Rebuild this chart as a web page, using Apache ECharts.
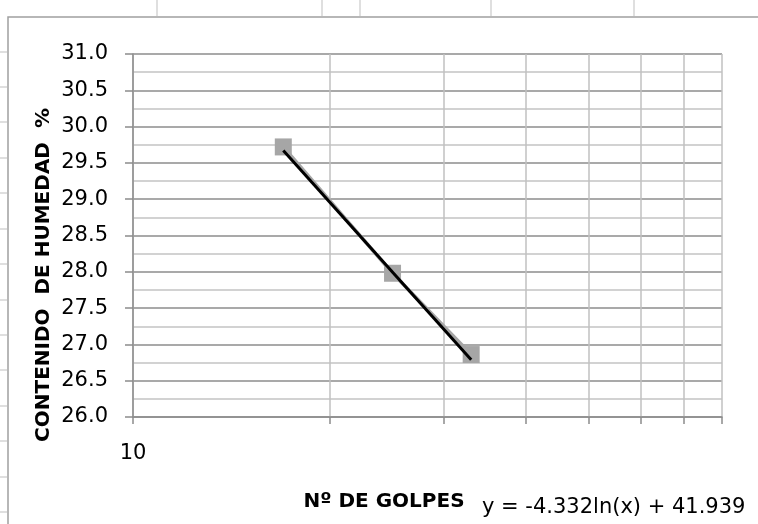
<!DOCTYPE html>
<html><head><meta charset="utf-8">
<script src="https://cdn.jsdelivr.net/npm/echarts@6/dist/echarts.min.js"></script>
<style>html,body{margin:0;padding:0;background:#fff}#c{width:758px;height:524px}</style>
</head><body><div id="c"></div>
<script>
const golpes = [17, 25, 33];
const humedad = [29.72, 27.98, 26.86];
const trendX = [17, 33];
const trendY = [29.67, 26.79];
const xTicks = [10, 20, 30, 40, 50, 60, 70, 80];
const xLabels = [10];
const yMin = 26, yMax = 31, yStep = 0.5;
const xTitle = 'Nº DE GOLPES';
const yTitle = 'CONTENIDO  DE HUMEDAD  %';
const equation = 'y = -4.332ln(x) + 41.939';

const FONT = 'DejaVu Sans';
const chart = echarts.init(document.getElementById('c'));

const deco = [];
deco.push({type:'rect', shape:{x:8, y:17, width:800, height:600}, style:{fill:'none', stroke:'#a0a0a0', lineWidth:1.5}, silent:true});
[157, 322, 360, 491, 634].forEach(x => deco.push({type:'line', shape:{x1:x, y1:0, x2:x, y2:16}, style:{stroke:'#d4d4d4', lineWidth:1.5}, silent:true}));
for (let k = 1; k <= 14; k++) { const y = Math.round(16.3 + 35.4 * k); deco.push({type:'line', shape:{x1:0, y1:y, x2:7, y2:y}, style:{stroke:'#d4d4d4', lineWidth:1.5}, silent:true}); }
deco.push({type:'text', x:384, y:502, style:{text:xTitle, font:'bold 20px "DejaVu Sans"', fill:'#000', textAlign:'center', textVerticalAlign:'middle'}});
deco.push({type:'text', x:44, y:275, rotation:Math.PI/2, style:{text:yTitle, font:'bold 20px "DejaVu Sans"', fill:'#000', textAlign:'center', textVerticalAlign:'middle'}});
deco.push({type:'text', x:482, y:508, style:{text:equation, font:'21px "DejaVu Sans"', fill:'#000', textAlign:'left', textVerticalAlign:'middle'}});

chart.setOption({
  animation: false,
  backgroundColor: '#fff',
  grid: {left:133, right:36, top:54, bottom:107},
  xAxis: {
    type:'log', logBase:10, min:10, max:80,
    axisLine:{show:true, lineStyle:{color:'#8c8c8c', width:1.5}},
    axisTick:{show:true, customValues:xTicks, length:7, lineStyle:{color:'#8c8c8c', width:1.5}},
    axisLabel:{customValues:xLabels, margin:26, fontSize:21, fontFamily:FONT, color:'#000'},
    splitLine:{show:true, lineStyle:{color:'#c0c0c0', width:1.5}}
  },
  yAxis: {
    type:'value', min:yMin, max:yMax, interval:yStep,
    axisLine:{show:true, lineStyle:{color:'#8c8c8c', width:1.5}},
    axisTick:{show:true, length:8, lineStyle:{color:'#8c8c8c', width:1.5}},
    axisLabel:{margin:25, fontSize:21, fontFamily:FONT, color:'#000', formatter: v => v.toFixed(1)},
    splitLine:{show:true, lineStyle:{color:'#8c8c8c', width:1.5}},
    minorTick:{show:false, splitNumber:2},
    minorSplitLine:{show:true, lineStyle:{color:'#c4c4c4', width:1.5}}
  },
  series: [
    {type:'line', data:golpes.map((g,i)=>[g, humedad[i]]), symbol:'rect', symbolSize:17,
     itemStyle:{color:'#a6a6a6'}, lineStyle:{color:'#a6a6a6', width:3.5}, z:2},
    {type:'line', data:trendX.map((g,i)=>[g, trendY[i]]), symbol:'none',
     lineStyle:{color:'#000', width:3}, z:3}
  ],
  graphic: deco
});
</script></body></html>
